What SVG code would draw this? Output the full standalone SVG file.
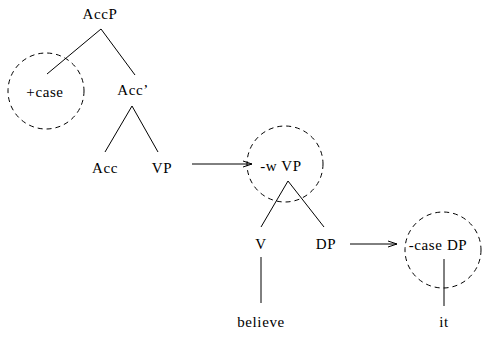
<svg xmlns="http://www.w3.org/2000/svg" width="483" height="339" viewBox="0 0 483 339">
<style>
text{font-family:"Liberation Serif","Times New Roman",serif;font-size:15px;letter-spacing:0.6px;fill:#000;text-anchor:middle}
.e{stroke:#000;stroke-width:1;fill:none}
.c{stroke:#000;stroke-width:1;fill:none;stroke-dasharray:5 4}
</style>
<defs>
<marker id="ah" markerWidth="10" markerHeight="8" refX="9" refY="4" orient="auto" markerUnits="userSpaceOnUse">
<path d="M0,1 L9,4 L0,7" fill="none" stroke="#000" stroke-width="1"/>
</marker>
</defs>
<rect width="483" height="339" fill="#fff"/>
<g id="connectors">
<line class="e" x1="101" y1="29" x2="47" y2="74"/>
<line class="e" x1="101" y1="29" x2="135" y2="75"/>
<line class="e" x1="132" y1="106" x2="105" y2="152"/>
<line class="e" x1="132" y1="106" x2="158" y2="152"/>
<line class="e" x1="192" y1="164" x2="252" y2="164" marker-end="url(#ah)"/>
<line class="e" x1="288" y1="181" x2="261" y2="227"/>
<line class="e" x1="288" y1="181" x2="324" y2="227"/>
<line class="e" x1="350" y1="244" x2="397" y2="244" marker-end="url(#ah)"/>
<line class="e" x1="261" y1="257" x2="261" y2="303"/>
<line class="e" x1="444" y1="259" x2="444" y2="306"/>
</g>
<g id="AccP"><text x="100" y="19">AccP</text></g>
<g id="case"><circle class="c" cx="46" cy="91" r="38"/><text x="45" y="97">+case</text></g>
<g id="AccBar"><text x="133" y="95">Acc’</text></g>
<g id="Acc"><text x="105" y="173">Acc</text></g>
<g id="VP"><text x="162" y="173">VP</text></g>
<g id="wVP"><circle class="c" cx="285" cy="164" r="38"/><text x="281" y="171">-w VP</text></g>
<g id="V"><text x="261" y="249">V</text></g>
<g id="DP"><text x="326" y="249">DP</text></g>
<g id="caseDP"><circle class="c" cx="443" cy="250" r="38"/><text x="438" y="250">-case DP</text></g>
<g id="believe"><text x="261" y="327">believe</text></g>
<g id="it"><text x="444" y="327">it</text></g>
</svg>
